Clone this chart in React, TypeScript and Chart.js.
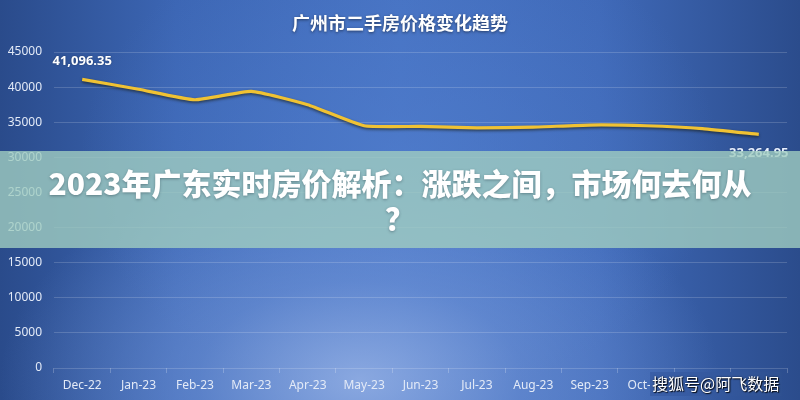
import React, { useEffect, useRef } from "react";
import { Chart, registerables } from "chart.js";

Chart.register(...registerables);

const categories = [
  "Dec-22", "Jan-23", "Feb-23", "Mar-23", "Apr-23", "May-23", "Jun-23",
  "Jul-23", "Aug-23", "Sep-23", "Oct-23", "Nov-23", "Dec-23",
];
const prices = [
  41096.35, 39700, 38200, 39400, 37500, 34500, 34400, 34200, 34300, 34600,
  34500, 34100, 33264.95,
];
const yTickValues = [0, 5000, 10000, 15000, 20000, 25000, 30000, 35000, 40000, 45000];
const chartTitle = "广州市二手房价格变化趋势";
const bannerLine1 = "2023年广东实时房价解析：涨跌之间，市场何去何从";
const bannerLine2 = "？";
const watermarkText = "搜狐号@阿飞数据";

const fmt = (v: number) =>
  v.toLocaleString("en-US", { minimumFractionDigits: 2, maximumFractionDigits: 2 });

const lineShadow = {
  id: "lineShadow",
  beforeDatasetsDraw(chart: any) {
    const ctx = chart.ctx;
    ctx.save();
    ctx.shadowColor = "rgba(20,20,0,0.6)";
    ctx.shadowBlur = 3;
    ctx.shadowOffsetX = 0;
    ctx.shadowOffsetY = 1.5;
  },
  afterDatasetsDraw(chart: any) {
    chart.ctx.restore();
  },
};

const endLabels = {
  id: "endLabels",
  afterDatasetsDraw(chart: any) {
    const ctx = chart.ctx;
    const meta = chart.getDatasetMeta(0);
    const data = chart.data.datasets[0].data as number[];
    const first = meta.data[0];
    const last = meta.data[data.length - 1];
    ctx.save();
    ctx.font = "bold 13px 'Noto Sans', sans-serif";
    ctx.textAlign = "center";
    ctx.textBaseline = "middle";
    ctx.fillStyle = "#ffffff";
    ctx.shadowColor = "rgba(0,0,0,0.35)";
    ctx.shadowBlur = 2;
    ctx.fillText(fmt(data[0]), first.x, first.y - 18);
    ctx.fillStyle = "#e8f0ff";
    ctx.fillText(fmt(data[data.length - 1]), last.x, last.y + 19);
    ctx.restore();
  },
};

export default function App() {
  const canvasRef = useRef<HTMLCanvasElement | null>(null);

  useEffect(() => {
    document.body.style.margin = "0";
    const canvas = canvasRef.current;
    if (!canvas) return;
    const chart = new Chart(canvas, {
      type: "line",
      data: {
        labels: categories,
        datasets: [
          {
            data: prices,
            borderColor: "#f0c233",
            borderWidth: 3.2,
            pointRadius: 0,
            pointHoverRadius: 0,
            tension: 0.15,
            fill: false,
          },
        ],
      },
      options: {
        responsive: false,
        animation: false,
        devicePixelRatio: 1,
        layout: { padding: { top: 52, left: 8, right: 13, bottom: 8 } },
        plugins: {
          legend: { display: false },
          tooltip: { enabled: false },
          title: { display: false },
        },
        scales: {
          x: {
            offset: true,
            afterFit: (axis: any) => {
              axis.height = 24;
            },
            grid: {
              offset: true,
              drawOnChartArea: false,
              drawTicks: true,
              tickLength: 5,
              color: "rgba(255,255,255,0.22)",
            },
            border: { display: false },
            ticks: {
              color: "#e3eaf7",
              padding: 5,
              autoSkip: false,
              maxRotation: 0,
              font: { family: "'Noto Sans', sans-serif", size: 12 },
            },
          },
          y: {
            min: 0,
            max: 45000,
            afterFit: (axis: any) => {
              axis.width = 46;
            },
            afterBuildTicks: (axis: any) => {
              axis.ticks = yTickValues.map((v) => ({ value: v }));
            },
            grid: {
              drawTicks: false,
              color: "rgba(255,255,255,0.17)",
            },
            border: { display: false },
            ticks: {
              color: "#e3eaf7",
              padding: 12,
              font: { family: "'Noto Sans', sans-serif", size: 12 },
              callback: (v: any) => String(v),
            },
          },
        },
      },
      plugins: [lineShadow, endLabels],
    });
    return () => chart.destroy();
  }, []);

  return (
    <div
      style={{
        position: "relative",
        width: 800,
        height: 400,
        overflow: "hidden",
        background:
          "radial-gradient(ellipse 45% 55% at 45% 95%, rgba(150,178,230,0.85) 0%, rgba(120,155,220,0.5) 45%, rgba(90,130,210,0) 100%)," +
          "radial-gradient(ellipse 40% 60% at 50% 40%, rgba(80,125,205,0.7) 0%, rgba(80,125,205,0) 100%)," +
          "linear-gradient(90deg, #2a4b8b 0%, #3c66b4 22%, #4672c2 50%, #3f69b8 75%, #2b4c8c 100%)",
        fontFamily: "'Noto Sans CJK SC', 'Noto Sans', sans-serif",
      }}
    >
      <canvas ref={canvasRef} width={800} height={400} style={{ position: "absolute", left: 0, top: 0 }} />
      <div
        style={{
          position: "absolute",
          top: 11,
          left: 0,
          width: 800,
          textAlign: "center",
          fontSize: 18,
          lineHeight: "22px",
          fontWeight: 700,
          color: "#ffffff",
          textShadow: "0 1px 3px rgba(0,0,0,0.5)",
        }}
      >
        {chartTitle}
      </div>
      <div
        style={{
          position: "absolute",
          top: 151,
          left: 0,
          width: 800,
          height: 97,
          background: "rgba(160,205,192,0.8)",
        }}
      />
      <div
        style={{
          position: "absolute",
          top: 165,
          left: 0,
          width: 800,
          textAlign: "center",
          fontSize: 30,
          lineHeight: "35px",
          fontWeight: 900,
          color: "#ffffff",
          whiteSpace: "nowrap",
          textShadow: "0 1px 3px rgba(40,60,70,0.45)",
        }}
      >
        {bannerLine1}
        <br />
        {bannerLine2}
      </div>
      <div
        style={{
          position: "absolute",
          top: 372,
          left: 650,
          width: 132,
          height: 24,
          background: "linear-gradient(90deg, #3a5fa8 0%, #33579c 60%, #2e5090 100%)",
        }}
      />
      <div
        style={{
          position: "absolute",
          top: 373,
          left: 652,
          fontSize: 16,
          lineHeight: "20px",
          color: "#ffffff",
          whiteSpace: "nowrap",
          textShadow: "1px 1px 1px rgba(0,0,0,0.85), 0 0 2px rgba(0,0,0,0.6)",
        }}
      >
        {watermarkText}
      </div>
    </div>
  );
}
